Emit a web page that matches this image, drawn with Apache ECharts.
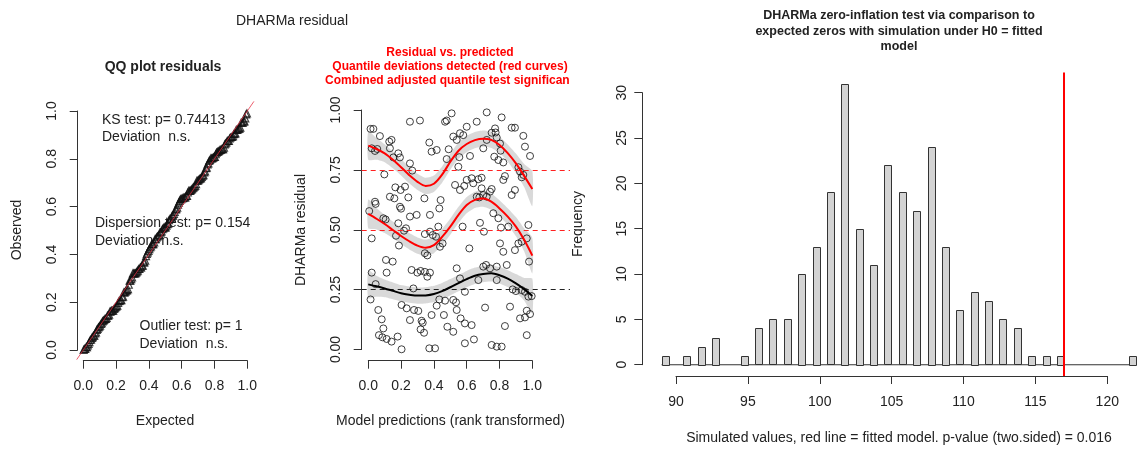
<!DOCTYPE html>
<html><head><meta charset="utf-8">
<script src="https://cdn.jsdelivr.net/npm/echarts@6/dist/echarts.min.js"></script>
<style>html,body{margin:0;padding:0;background:#fff}#c{width:1138px;height:450px}</style>
</head><body><div id="c"></div>
<script>
// ---------------- DATA ----------------
// Panel 2: rank-transformed model predictions vs. scaled (DHARMa) residuals
const predX = [
0.014,0.031,0.071,0.021,0.041,0.055,0.006,0.021,0.041,0.045,
0.092,0.106,0.021,0.014,0.061,0.082,0.092,0.065,0.086,0.112,
0.142,0.179,0.045,0.128,0.142,0.132,0.153,0.193,0.098,0.183,
0.165,0.197,0.224,0.132,0.159,0.193,0.200,0.244,0.254,0.254,
0.268,0.230,0.218,0.254,0.295,0.183,0.169,0.187,0.108,0.112,
0.149,0.203,0.234,0.254,0.203,0.279,0.264,0.299,0.319,0.275,
0.305,0.325,0.332,0.319,0.315,0.372,0.386,0.417,0.342,0.376,
0.345,0.376,0.345,0.360,0.376,0.345,0.360,0.393,0.413,0.427,
0.437,0.453,0.441,0.433,0.417,0.433,0.468,0.461,0.482,0.372,
0.407,0.386,0.340,0.468,0.478,0.490,0.478,0.508,0.539,0.518,
0.559,0.600,0.579,0.620,0.555,0.549,0.529,0.559,0.585,0.600,
0.630,0.640,0.671,0.691,0.575,0.616,0.661,0.677,0.701,0.722,
0.742,0.752,0.691,0.681,0.705,0.539,0.559,0.589,0.518,0.535,
0.539,0.563,0.518,0.589,0.630,0.589,0.644,0.701,0.718,0.742,
0.712,0.722,0.661,0.722,0.701,0.752,0.773,0.776,0.783,0.803,
0.768,0.793,0.813,0.874,0.894,0.945,0.986,0.955,0.807,0.823,
0.915,0.925,0.945,0.935,0.833,0.823,0.874,0.894,0.762,0.793,
0.854,0.894,0.915,0.935,0.976,0.966,0.980,0.809,0.803,0.823,
0.783,0.844,0.880,0.900,0.935,0.955,0.976,0.996,0.966,0.986,
0.925,0.955,0.864,0.833,0.966,0.752,0.783,0.813,0.783,0.671];
const residY = [
0.921,0.921,0.891,0.840,0.829,0.837,0.578,0.464,0.617,0.608,
0.548,0.543,0.321,0.209,0.165,0.126,0.088,0.060,0.051,0.044,
0.033,0.054,0.273,0.868,0.875,0.840,0.802,0.802,0.731,0.819,
0.677,0.666,0.680,0.638,0.631,0.596,0.588,0.635,0.951,0.777,
0.747,0.506,0.496,0.555,0.562,0.527,0.475,0.434,0.374,0.321,
0.367,0.186,0.172,0.123,0.001,0.165,0.332,0.321,0.328,0.255,
0.161,0.120,0.112,0.084,0.956,0.864,0.826,0.833,0.631,0.562,
0.482,0.492,0.402,0.393,0.321,0.324,0.304,0.478,0.471,0.513,
0.429,0.443,0.624,0.589,0.183,0.209,0.204,0.144,0.095,0.005,
0.005,0.144,0.070,0.951,0.956,0.836,0.795,0.986,0.875,0.889,
0.903,0.930,0.895,0.808,0.803,0.763,0.687,0.666,0.683,0.708,
0.715,0.694,0.711,0.717,0.513,0.422,0.638,0.635,0.645,0.638,
0.659,0.670,0.673,0.529,0.492,0.339,0.297,0.241,0.207,0.197,
0.165,0.130,0.074,0.109,0.102,0.026,0.042,0.346,0.353,0.339,
0.175,0.990,0.951,0.875,0.840,0.905,0.923,0.906,0.885,0.860,
0.805,0.791,0.969,0.926,0.926,0.892,0.808,0.847,0.830,0.781,
0.761,0.743,0.729,0.719,0.724,0.708,0.645,0.666,0.569,0.548,
0.513,0.415,0.443,0.450,0.520,0.464,0.367,0.509,0.443,0.408,
0.346,0.353,0.251,0.244,0.248,0.241,0.221,0.223,0.162,0.148,
0.130,0.134,0.179,0.098,0.060,0.019,0.012,0.012,0.290,0.290];

// Quantile regression curves and their grey confidence bands
const curveX = [0,0.05,0.1,0.15,0.2,0.25,0.3,0.35,0.4,0.45,0.5,0.55,0.6,0.65,0.7,0.75,0.8,0.85,0.9,0.95,1.0];
const q75   = [0.851,0.837,0.819,0.792,0.761,0.728,0.700,0.683,0.692,0.730,0.784,0.830,0.858,0.874,0.880,0.875,0.854,0.820,0.777,0.725,0.670];
const q75Lo = [0.792,0.792,0.782,0.757,0.727,0.694,0.666,0.649,0.658,0.696,0.750,0.796,0.824,0.840,0.846,0.841,0.820,0.785,0.737,0.678,0.598];
const q75Hi = [0.912,0.883,0.857,0.827,0.795,0.762,0.734,0.717,0.726,0.764,0.818,0.864,0.892,0.908,0.914,0.909,0.888,0.856,0.818,0.775,0.745];
const q50   = [0.566,0.546,0.524,0.499,0.474,0.452,0.434,0.425,0.436,0.470,0.513,0.562,0.603,0.625,0.630,0.617,0.589,0.555,0.513,0.458,0.392];
const q50Lo = [0.506,0.501,0.486,0.464,0.440,0.418,0.400,0.391,0.402,0.436,0.479,0.528,0.569,0.591,0.596,0.583,0.555,0.520,0.473,0.410,0.318];
const q50Hi = [0.626,0.591,0.562,0.534,0.508,0.486,0.468,0.459,0.470,0.504,0.547,0.596,0.637,0.659,0.664,0.651,0.623,0.590,0.553,0.506,0.466];
const q25   = [0.272,0.264,0.255,0.245,0.235,0.229,0.225,0.226,0.232,0.244,0.260,0.277,0.294,0.308,0.315,0.318,0.310,0.296,0.276,0.252,0.223];
const q25Lo = [0.214,0.220,0.218,0.210,0.201,0.195,0.191,0.192,0.198,0.210,0.226,0.243,0.260,0.274,0.281,0.284,0.276,0.261,0.237,0.205,0.150];
const q25Hi = [0.330,0.308,0.292,0.280,0.269,0.263,0.259,0.260,0.266,0.278,0.294,0.311,0.328,0.342,0.349,0.352,0.344,0.331,0.315,0.299,0.296];
const quantileLevels = [0.25, 0.5, 0.75];

// Panel 3: histogram of simulated zero counts (bins of width 0.5)
const histBinLeft = [89,90.5,91.5,92.5,94.5,95.5,96.5,97.5,98.5,99.5,100.5,101.5,102.5,103.5,
                     104.5,105.5,106.5,107.5,108.5,109.5,110.5,111.5,112.5,113.5,114.5,115.5,116.5,121.5];
const histFreq    = [1,1,2,3,1,4,5,5,10,13,19,31,15,11,22,19,17,24,13,6,8,7,5,4,1,1,1,1];
const histBinWidth = 0.5;
const observedZeros = 117;

// Texts
const qqTests = [
  ['KS test: p= 0.74413', 'Deviation  n.s.'],
  ['Dispersion test: p= 0.154', 'Deviation  n.s.'],
  ['Outlier test: p= 1', 'Deviation  n.s.']
];

// ---------------- CHART ----------------
const FONT = '"Liberation Sans", Arial, Helvetica, sans-serif';
const AX = '#333', TX = '#222';
const chart = echarts.init(document.getElementById('c'));

const n = Math.min(predX.length, residY.length);
const residPts = [];
for (let i = 0; i < n; i++) residPts.push([predX[i], residY[i]]);
// QQ plot: sorted residuals against uniform expected quantiles
const sortedRes = residY.slice(0, n).sort((a, b) => a - b);
const qqPts = sortedRes.map((v, i) => [(i + 0.5) / n, v]);

function visX(g, min, max, interval, fmt, margin) {
  return {type:'value', gridIndex:g, min, max, interval, position:'bottom',
    axisLine:{show:true, lineStyle:{color:AX, width:1}},
    axisTick:{show:true, length:8, lineStyle:{color:AX, width:1}},
    axisLabel:{show:true, fontFamily:FONT, fontSize:14, color:TX, margin, formatter:fmt,
      showMinLabel:true, showMaxLabel:true, hideOverlap:false},
    splitLine:{show:false}};
}
function visY(g, min, max, interval, fmt, margin) {
  return {type:'value', gridIndex:g, min, max, interval, position:'left',
    axisLine:{show:true, lineStyle:{color:AX, width:1}},
    axisTick:{show:true, length:8, lineStyle:{color:AX, width:1}},
    axisLabel:{show:true, rotate:90, fontFamily:FONT, fontSize:14, color:TX, margin, formatter:fmt,
      showMinLabel:true, showMaxLabel:true, hideOverlap:false},
    splitLine:{show:false}};
}
function hid(g, min, max) { return {type:'value', gridIndex:g, min, max, show:false, splitLine:{show:false}}; }

const f1 = v => v.toFixed(1), f2 = v => v.toFixed(2), f0 = v => String(Math.round(v));

function bandSeries(lo, hi) {
  return {type:'custom', xAxisIndex:3, yAxisIndex:3, silent:true, z:1, data:[[0.5, 0.5]],
    renderItem:(params, api) => {
      const pts = [];
      curveX.forEach((x, i) => pts.push(api.coord([x, hi[i]])));
      for (let i = curveX.length - 1; i >= 0; i--) pts.push(api.coord([curveX[i], lo[i]]));
      return {type:'polygon', shape:{points:pts, smooth:0.2}, style:{fill:'rgba(0,0,0,0.15)'}};
    }};
}
function curveSeries(vals, color) {
  return {type:'line', xAxisIndex:3, yAxisIndex:3, smooth:0.3, symbol:'none', silent:true, z:5,
    data: curveX.map((x, i) => [x, vals[i]]), lineStyle:{color, width:2}};
}

const graphics = [];
function txt(x, y, text, opt) {
  graphics.push(Object.assign({type:'text', x, y, silent:true,
    style:Object.assign({text, fill:TX, font:'14px ' + FONT, align:'center', verticalAlign:'middle'}, opt && opt.style || {})},
    opt && opt.el || {}));
}
txt(292, 21, 'DHARMa residual');
txt(163, 67, 'QQ plot residuals', {style:{font:'bold 14px ' + FONT}});
// QQ test annotations
txt(102, 120, qqTests[0][0], {style:{align:'left'}});
txt(102, 137.5, qqTests[0][1], {style:{align:'left'}});
txt(95, 223.5, qqTests[1][0], {style:{align:'left'}});
txt(95, 241, qqTests[1][1], {style:{align:'left'}});
txt(139.5, 326.5, qqTests[2][0], {style:{align:'left'}});
txt(139.5, 344, qqTests[2][1], {style:{align:'left'}});
txt(165, 421.5, 'Expected');
txt(17, 230, 'Observed', {el:{rotation:Math.PI/2}});
// residual panel
txt(450, 52.5, 'Residual vs. predicted', {style:{fill:'#ff0000', font:'bold 12px ' + FONT}});
txt(450, 66.5, 'Quantile deviations detected (red curves)', {style:{fill:'#ff0000', font:'bold 12px ' + FONT}});
txt(325, 80.5, 'Combined adjusted quantile test significant',
    {style:{fill:'#ff0000', font:'bold 12px ' + FONT, align:'left', width:249, overflow:'truncate', ellipsis:''}});
txt(450.5, 421.5, 'Model predictions (rank transformed)');
txt(301, 230, 'DHARMa residual', {el:{rotation:Math.PI/2}});
// histogram panel
txt(899, 16, 'DHARMa zero-inflation test via comparison to', {style:{font:'bold 12.5px ' + FONT}});
txt(899, 31.5, 'expected zeros with simulation under H0 = fitted', {style:{font:'bold 12.5px ' + FONT}});
txt(899, 47, 'model', {style:{font:'bold 12.5px ' + FONT}});
txt(899, 438, 'Simulated values, red line = fitted model. p-value (two.sided) = 0.016');
txt(578, 224, 'Frequency', {el:{rotation:Math.PI/2}});

const option = {
  animation:false,
  backgroundColor:'#fff',
  grid:[
    {left:76.7, top:101.4, width:177.2, height:258.2},   // 0 QQ data
    {left:83.3, top:359.7, width:164, height:1},         // 1 QQ x axis
    {left:77.7, top:111, width:1, height:239},           // 2 QQ y axis
    {left:361.7, top:100.4, width:177.2, height:258.7},  // 3 residual data
    {left:368.3, top:359.7, width:164, height:1},        // 4 residual x axis
    {left:361.7, top:110, width:1, height:239.5},        // 5 residual y axis
    {left:642.6, top:72.4, width:495.3, height:303.6},   // 6 histogram data (cropped at right edge)
    {left:676, top:375, width:431.3, height:1},          // 7 histogram x axis
    {left:642.3, top:92.7, width:1, height:272},         // 8 histogram y axis
    {left:361.7, top:100.4, width:208.3, height:258.7}   // 9 residual reference lines (run to panel edge)
  ],
  xAxis:[
    hid(0, -0.04, 1.04),
    visX(1, 0, 1, 0.2, f1, 18),
    hid(2, 0, 1),
    hid(3, -0.04, 1.04),
    visX(4, 0, 1, 0.2, f1, 18),
    hid(5, 0, 1),
    hid(6, 87.68, 122.13),
    visX(7, 90, 120, 5, f0, 19),
    hid(8, 0, 1),
    hid(9, 0, 1)
  ],
  yAxis:[
    hid(0, -0.04, 1.04),
    hid(1, 0, 1),
    visY(2, 0, 1, 0.2, f1, 19),
    hid(3, -0.04, 1.04),
    hid(4, 0, 1),
    visY(5, 0, 1, 0.25, f2, 19),
    hid(6, -1.24, 32.24),
    hid(7, 0, 1),
    visY(8, 0, 30, 5, f0, 13),
    hid(9, -0.04, 1.04)
  ],
  graphic:{elements:graphics},
  series:[
    // QQ plot
    {type:'scatter', xAxisIndex:0, yAxisIndex:0, data:qqPts, symbol:'triangle', symbolSize:7, silent:true,
      itemStyle:{color:'rgba(0,0,0,0)', borderColor:'#111', borderWidth:1.2}, z:2},
    {type:'line', xAxisIndex:0, yAxisIndex:0, data:[[-0.04,-0.04],[1.04,1.04]], symbol:'none', silent:true,
      lineStyle:{color:'rgba(230,40,60,0.75)', width:1}, z:3},
    // residual panel: confidence bands
    bandSeries(q25Lo, q25Hi),
    bandSeries(q50Lo, q50Hi),
    bandSeries(q75Lo, q75Hi),
    // dashed reference lines at the tested quantiles
    {type:'line', xAxisIndex:9, yAxisIndex:9, data:[], silent:true, z:2,
      markLine:{silent:true, symbol:['none','none'], label:{show:false},
        data: quantileLevels.map(q => ({yAxis:q, lineStyle:{color: q === 0.25 ? '#222' : '#ff2020', type:[5,4], width:1}}))}},
    // residual points
    {type:'scatter', xAxisIndex:3, yAxisIndex:3, data:residPts, symbol:'circle', symbolSize:7, silent:true,
      itemStyle:{color:'rgba(0,0,0,0)', borderColor:'#111', borderWidth:1}, z:3},
    curveSeries(q25, '#000'),
    curveSeries(q50, '#ff0000'),
    curveSeries(q75, '#ff0000'),
    // histogram
    {type:'custom', xAxisIndex:6, yAxisIndex:6, silent:true, z:2,
      data: histBinLeft.map((l, i) => [l, histFreq[i]]),
      renderItem:(params, api) => {
        const l = api.value(0), c = api.value(1);
        const p0 = api.coord([l, c]), p1 = api.coord([l + histBinWidth, 0]);
        return {type:'rect', shape:{x:Math.round(p0[0])+0.5, y:Math.round(p0[1])+0.5,
          width:Math.round(p1[0]-p0[0]), height:Math.round(p1[1]-p0[1])},
          style:{fill:'#d3d3d3', stroke:'#333', lineWidth:1}};
      },
      markLine:{silent:true, symbol:['none','none'], label:{show:false},
        data:[{xAxis:observedZeros}], lineStyle:{color:'#ff0000', width:2, type:'solid'}}},
    {type:'line', xAxisIndex:6, yAxisIndex:6, silent:true, symbol:'none', z:1,
      data:[[histBinLeft[0], 0], [histBinLeft[histBinLeft.length-1] + histBinWidth, 0]],
      lineStyle:{color:'#333', width:1}}
  ]
};
chart.setOption(option);
</script>
</body></html>
